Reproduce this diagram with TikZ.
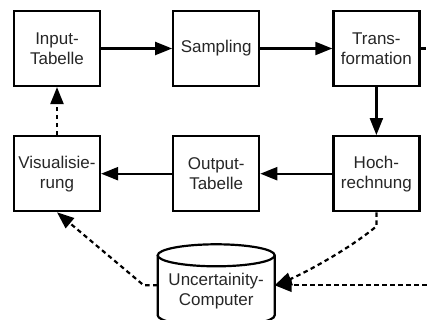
\documentclass[tikz,border=0pt]{standalone}
\usepackage{fontspec}
\setmainfont{Liberation Sans}
\usetikzlibrary{positioning,arrows.meta}

\tikzset{
  Box/.style={draw,line width=2.2pt,minimum width=86pt,minimum height=75pt,
    align=center,inner sep=2pt,text=black!85,font=\fontsize{17}{20}\selectfont},
  Store/.style={minimum width=117pt,minimum height=82pt,outer sep=0pt},
  Wall/.style={line width=2.2pt},
  Flow/.style={line width=2.2pt,-{Triangle[length=17pt,width=13pt]}},
  Dash/.style={Flow,dash pattern=on 4.5pt off 3.5pt}
}

\begin{document}
\begin{tikzpicture}
  \useasboundingbox (0,0) rectangle (428pt,-320pt);
  % upper row
  \node[Box] (input) at (57pt,-48.5pt) {Input-\\Tabelle};
  \node[Box,right=71pt of input] (sampling) {Sampling};
  \node[Box,right=72pt of sampling] (trafo) {Trans-\\formation};
  % lower row
  \node[Box,below=48pt of trafo] (hoch) {Hoch-\\rechnung};
  \node[Box,below=48pt of sampling] (output) {Output-\\Tabelle};
  \node[Box,below=48pt of input] (vis) {Visualisie-\\rung};
  % database
  \node[Store,below=32pt of output] (ucomp) {};
  \node[Box,draw=none,minimum size=0pt] (ucomptxt) at ([yshift=-6pt]ucomp.center) {Uncertainity-\\Computer};
  \draw[Wall] ([yshift=-11pt]ucomp.north) ellipse [x radius=58.5pt,y radius=11pt];
  \draw[Wall] ([yshift=-11pt]ucomp.north west) -- ([yshift=11pt]ucomp.south west)
    arc [start angle=180,end angle=360,x radius=58.5pt,y radius=11pt]
    -- ([yshift=-11pt]ucomp.north east);
  \coordinate[right=5pt of trafo.east] (trafoout);
  \coordinate[right=160pt of ucomp.east] (feed);
  %
  \draw[Flow] (input) -- (sampling);
  \draw[Flow] (sampling) -- (trafo);
  \draw[Wall] (trafo.east) -- (trafoout);
  \draw[Flow] (trafo) -- (hoch);
  \draw[Flow] (hoch) -- (output);
  \draw[Flow] (output) -- (vis);
  \draw[Dash] (vis) -- (input);
  \draw[Dash] (ucomp.west) -- ++(-14pt,0) -- (vis.south);
  \draw[Dash] (hoch.south) -- ++(0,-14pt) .. controls +(-30pt,-25pt) and +(25pt,10pt) .. (ucomp.east);
  \draw[Dash] (feed) -- (ucomp.east);
\end{tikzpicture}
\end{document}
